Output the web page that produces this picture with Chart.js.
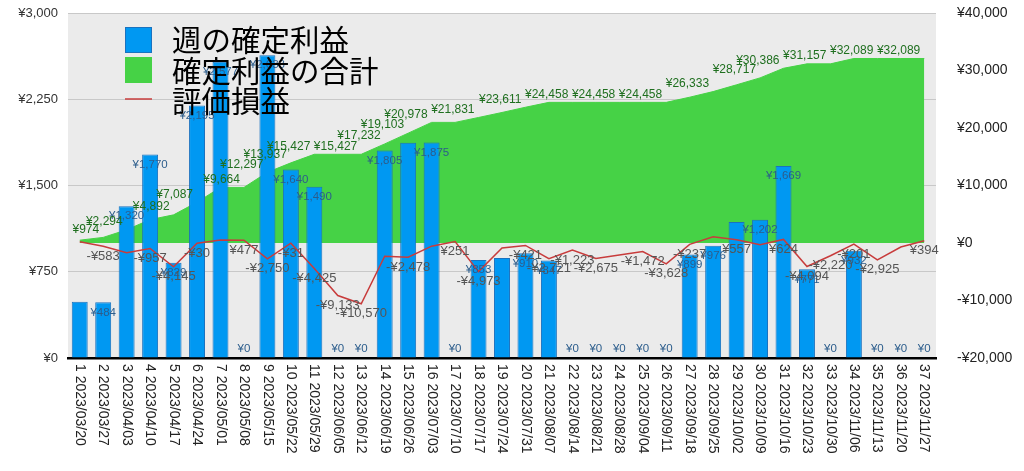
<!DOCTYPE html>
<html><head><meta charset="utf-8">
<script src="https://cdn.jsdelivr.net/npm/chart.js@4.4.0/dist/chart.umd.min.js"></script>
<style>html,body{margin:0;padding:0;background:#fff;}canvas{display:block;}</style>
</head><body>
<canvas id="c" width="1024" height="471"></canvas>
<script>
const weekNumbers = [1,2,3,4,5,6,7,8,9,10,11,12,13,14,15,16,17,18,19,20,21,22,23,24,25,26,27,28,29,30,31,32,33,34,35,36,37];
const weekDates = ['2023/03/20','2023/03/27','2023/04/03','2023/04/10','2023/04/17','2023/04/24','2023/05/01','2023/05/08','2023/05/15','2023/05/22','2023/05/29','2023/06/05','2023/06/12','2023/06/19','2023/06/26','2023/07/03','2023/07/10','2023/07/17','2023/07/24','2023/07/31','2023/08/07','2023/08/14','2023/08/21','2023/08/28','2023/09/04','2023/09/11','2023/09/18','2023/09/25','2023/10/02','2023/10/09','2023/10/16','2023/10/23','2023/10/30','2023/11/06','2023/11/13','2023/11/20','2023/11/27'];
const weeklyProfit = [490,484,1320,1770,829,2195,2577,0,2633,1640,1490,0,0,1805,1871,1875,0,853,870,910,847,0,0,0,0,0,899,976,1182,1202,1669,771,0,932,0,0,0];
const cumulativeProfit = [490,974,2294,4064,4892,7087,9664,9664,12297,13937,15427,15427,15427,17232,19103,20978,20978,21831,22701,23611,24458,24458,24458,24458,24458,24458,25357,26333,27515,28717,30386,31157,31157,32089,32089,32089,32089];
const unrealizedPL = [230,-583,-1700,-957,-4145,-30,520,477,-2750,-31,-4425,-9133,-10570,-2300,-2478,-550,251,-4973,-870,-421,-2721,-1223,-2675,-2090,-1472,-3628,-237,1100,557,-300,624,-4094,-2220,-201,-2925,-700,394];
const seriesNames = ['週の確定利益','確定利益の合計','評価損益'];
const leftAxisRange = [0, 3000, 750];
const rightAxisRange = [-20000, 40000, 10000];

const xLabels = weekNumbers.map((n, i) => n + ' ' + weekDates[i]);
const fmt = v => (v < 0 ? '-¥' : '¥') + Math.abs(v).toLocaleString('en-US');

const bgPlugin = {
  id: 'bg',
  beforeDraw(chart) {
    const {ctx, chartArea: a} = chart;
    ctx.save();
    ctx.fillStyle = '#ebebeb';
    ctx.fillRect(a.left, a.top, a.right - a.left, a.bottom - a.top);
    ctx.restore();
  }
};

const labelPlugin = {
  id: 'valueLabels',
  afterDatasetsDraw(chart) {
    const ctx = chart.ctx;
    const specs = [
      {ds: 0, font: '11.5px "Liberation Sans"', color: '#2c5d8c',
       place: (el, w, v) => v === 0 ? {cx: el.x, cy: el.base - 9} : {cx: el.x, cy: el.y + 10}},
      {ds: 1, font: '12px "Liberation Sans"', color: '#1f6f1f',
       place: (el, w) => ({cx: el.x - 4 - w / 2, cy: el.y - 8})},
      {ds: 2, font: '13px "Liberation Sans"', color: '#555555',
       place: (el) => ({cx: el.x, cy: el.y + 10})}
    ];
    specs.forEach(s => {
      const meta = chart.getDatasetMeta(s.ds);
      const data = chart.data.datasets[s.ds].data;
      ctx.save();
      ctx.font = s.font; ctx.fillStyle = s.color;
      ctx.textAlign = 'center'; ctx.textBaseline = 'middle';
      const kept = [];
      for (let i = data.length - 1; i >= 0; i--) {
        const el = meta.data[i];
        const v = data[i];
        const t = fmt(v);
        const w = ctx.measureText(t).width;
        const p = s.place(el, w, v);
        const box = {l: p.cx - w / 2, r: p.cx + w / 2, y: p.cy};
        if (kept.some(k => box.l < k.r && box.r > k.l && Math.abs(box.y - k.y) < 7.1)) continue;
        kept.push(box);
        ctx.fillText(t, p.cx, p.cy);
      }
      ctx.restore();
    });
  }
};

const xLabelPlugin = {
  id: 'xLabels',
  afterDraw(chart) {
    const ctx = chart.ctx;
    const xs = chart.scales.x;
    ctx.save();
    ctx.font = '14px "Liberation Sans"';
    ctx.fillStyle = '#222';
    ctx.textAlign = 'left';
    ctx.textBaseline = 'middle';
    chart.data.labels.forEach((lab, i) => {
      const x = xs.getPixelForValue(i);
      ctx.save();
      ctx.translate(x, chart.chartArea.bottom + 6);
      ctx.rotate(Math.PI / 2);
      ctx.fillText(lab, 0, 0);
      ctx.restore();
    });
    ctx.restore();
  }
};

const legendPlugin = {
  id: 'customLegend',
  afterDraw(chart) {
    const ctx = chart.ctx;
    const ds = chart.data.datasets;
    const rows = [40, 70.5, 101];
    ctx.save();
    ctx.font = '29.5px "Noto Sans CJK JP"';
    ctx.textBaseline = 'middle';
    ctx.textAlign = 'left';
    ctx.fillStyle = ds[0].backgroundColor;
    ctx.fillRect(125, 27, 27, 26);
    ctx.strokeStyle = ds[0].borderColor; ctx.lineWidth = 1;
    ctx.strokeRect(125.5, 27.5, 26, 25);
    ctx.fillStyle = ds[1].backgroundColor;
    ctx.fillRect(125, 57, 27, 26);
    ctx.strokeStyle = ds[2].borderColor; ctx.lineWidth = 1.5;
    ctx.beginPath(); ctx.moveTo(125, 99); ctx.lineTo(152, 99); ctx.stroke();
    ctx.fillStyle = '#000';
    ds.forEach((d, i) => ctx.fillText(d.label, 172, rows[i]));
    ctx.restore();
  }
};

new Chart(document.getElementById('c').getContext('2d'), {
  type: 'bar',
  data: {
    labels: xLabels,
    datasets: [
      {type: 'bar', label: seriesNames[0], data: weeklyProfit, yAxisID: 'y',
       backgroundColor: '#0098f2', borderColor: '#1a72bf', borderWidth: 1,
       barPercentage: 0.85, categoryPercentage: 0.8, order: 1},
      {type: 'line', label: seriesNames[1], data: cumulativeProfit, yAxisID: 'y1',
       backgroundColor: '#46d246', borderColor: '#46d246', borderWidth: 1,
       fill: 'origin', pointRadius: 0, tension: 0, order: 2},
      {type: 'line', label: seriesNames[2], data: unrealizedPL, yAxisID: 'y1',
       borderColor: '#c83c3c', backgroundColor: '#c83c3c', borderWidth: 1.5,
       fill: false, pointRadius: 0, tension: 0, order: 0}
    ]
  },
  options: {
    responsive: false,
    animation: false,
    devicePixelRatio: 1,
    layout: {padding: {top: 13, left: 0, right: 0, bottom: 0}, autoPadding: false},
    plugins: {legend: {display: false}, tooltip: {enabled: false}},
    scales: {
      x: {
        offset: true,
        grid: {display: false},
        border: {display: true, color: '#000', width: 2.5},
        ticks: {display: false},
        afterFit(s) { s.height = 113; }
      },
      y: {
        position: 'left',
        min: leftAxisRange[0], max: leftAxisRange[1],
        ticks: {stepSize: leftAxisRange[2], callback: v => fmt(v), color: '#333',
                font: {family: 'Liberation Sans', size: 13}, padding: 2},
        grid: {color: '#c8c8c8', drawTicks: true, tickLength: 8, tickColor: 'rgba(0,0,0,0)'},
        border: {display: false},
        afterFit(s) { s.width = 68; }
      },
      y1: {
        position: 'right',
        min: rightAxisRange[0], max: rightAxisRange[1],
        ticks: {stepSize: rightAxisRange[2], callback: v => fmt(v), color: '#222',
                font: {family: 'Liberation Sans', size: 14}, padding: 2},
        grid: {display: true, drawOnChartArea: false, drawTicks: true, tickLength: 19,
               color: 'rgba(0,0,0,0)', tickColor: 'rgba(0,0,0,0)'},
        border: {display: false},
        afterFit(s) { s.width = 88; }
      }
    }
  },
  plugins: [bgPlugin, labelPlugin, xLabelPlugin, legendPlugin]
});
</script>
</body></html>
